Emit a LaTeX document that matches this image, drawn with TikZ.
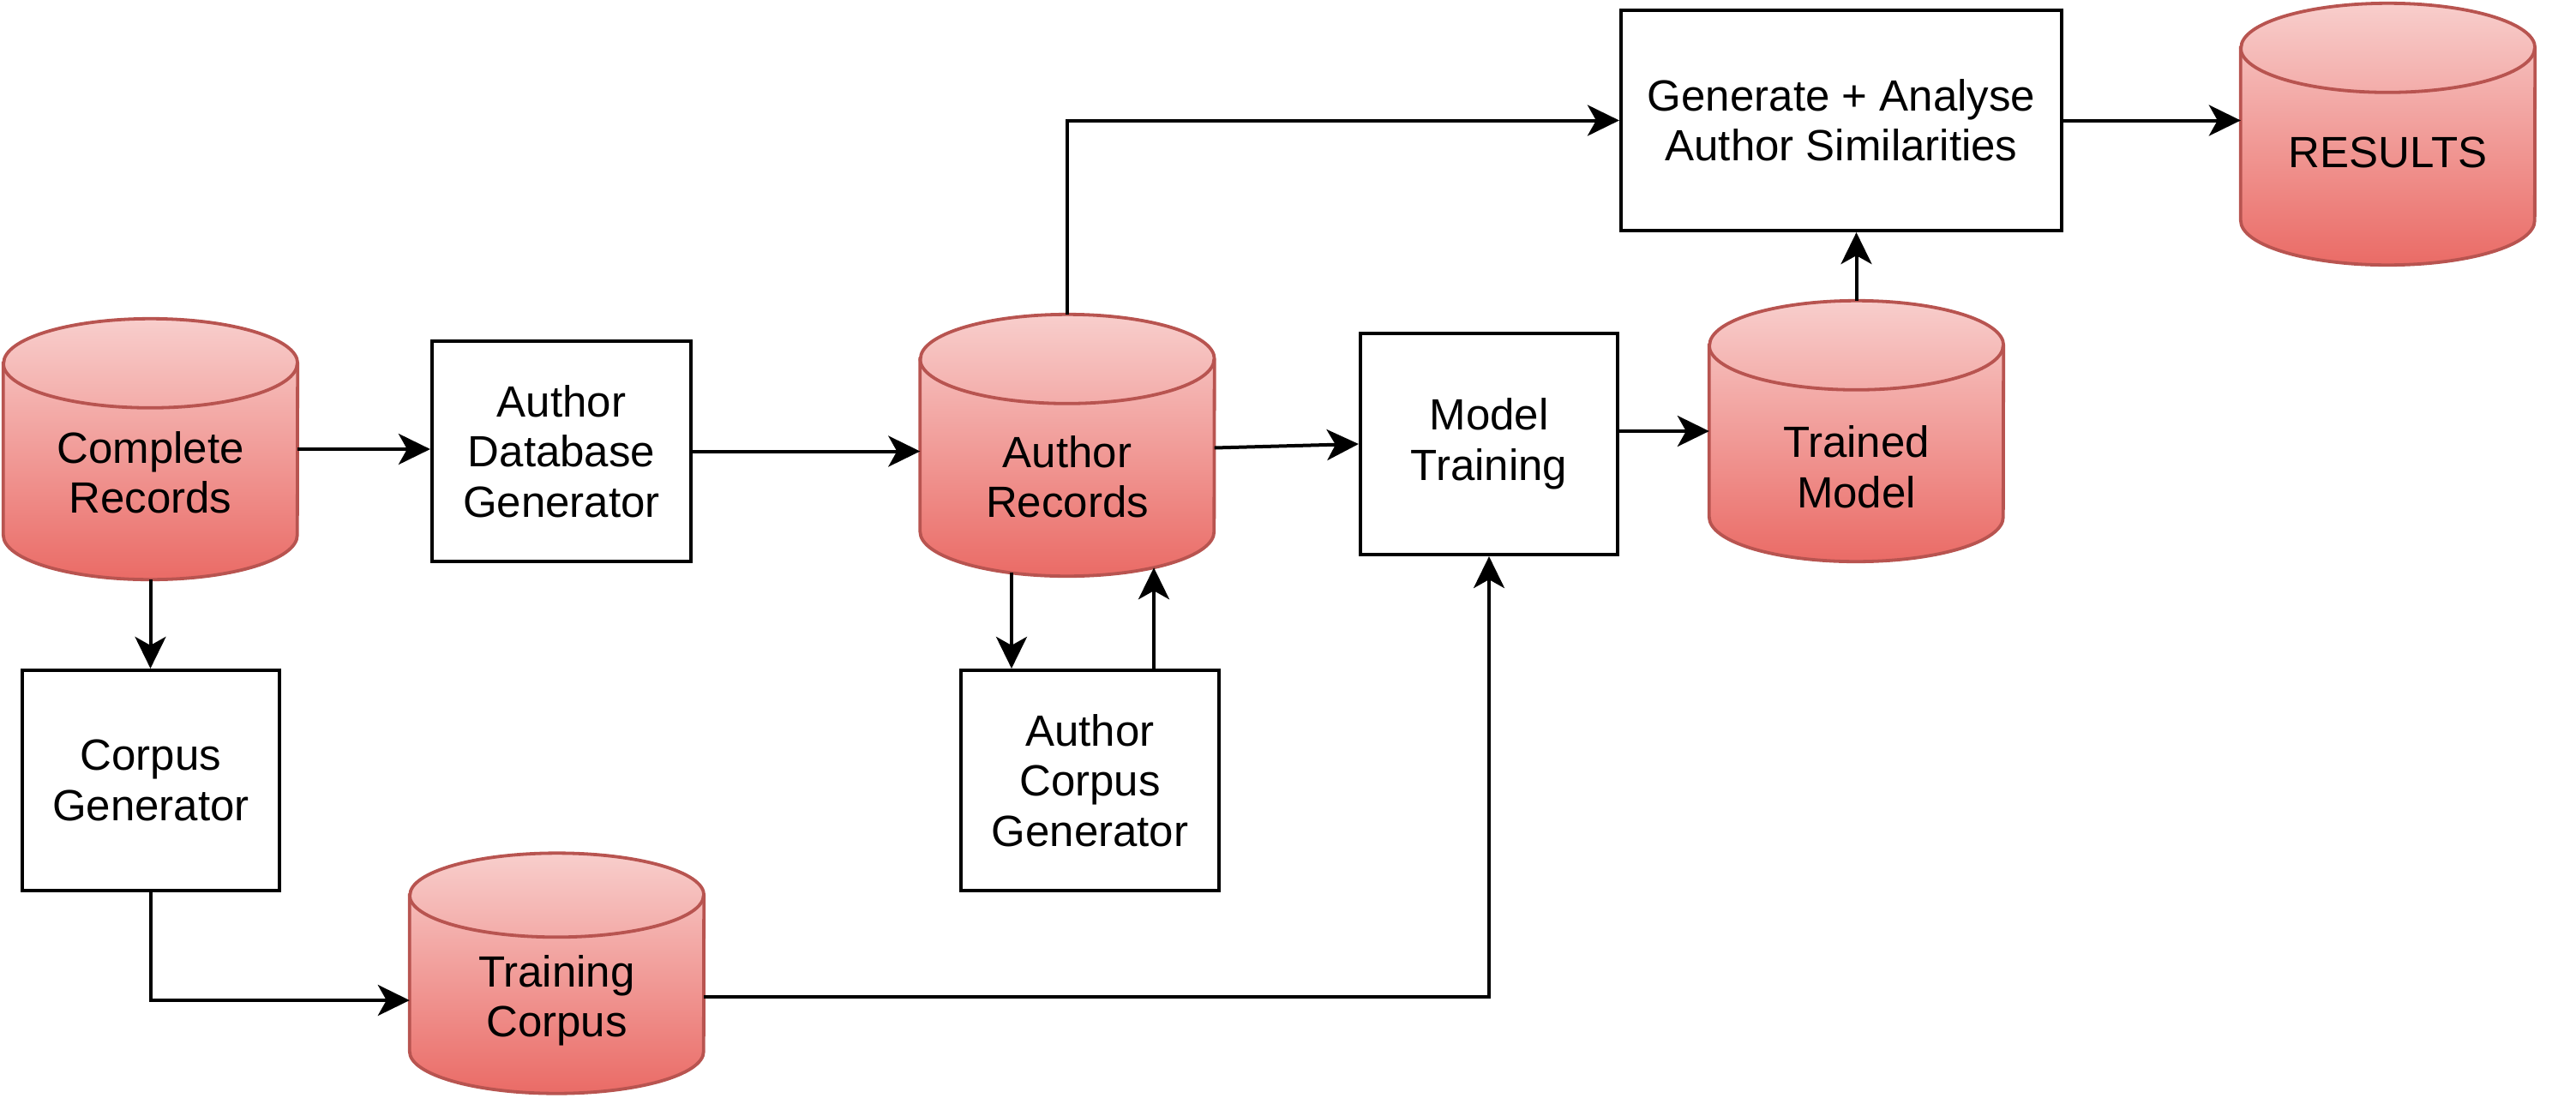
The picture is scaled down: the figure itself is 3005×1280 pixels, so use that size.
\documentclass[tikz,border=0pt]{standalone}
\usepackage{fontspec}
\setmainfont{Liberation Sans}
\usetikzlibrary{arrows.meta,calc}
\pgfdeclarelayer{background}
\pgfsetlayers{background,main}
\definecolor{cyltop}{HTML}{F8CECC}
\definecolor{cylbot}{HTML}{EA6B66}
\definecolor{cylline}{HTML}{B85450}
\begin{document}
\begin{tikzpicture}[x=1pt,y=-1pt,
  font=\fontsize{51}{58.5}\selectfont,
  box/.style={draw=black, line width=4.2pt, fill=white, inner sep=0pt, align=center, minimum height=257pt},
  cyl/.style={inner sep=0pt, minimum width=343pt},
  lbl/.style={align=center, inner sep=0pt},
  arr/.style={line width=4pt, -{Stealth[length=37pt,width=36pt,inset=10pt]}}]
\useasboundingbox (0,0) rectangle (3005,1280);

% process boxes
\node[box, minimum width=302pt] (adb) at (655,526.5) {Author\\Database\\Generator};
\node[box, minimum width=300pt] (cg) at (176,910.5) {Corpus\\Generator};
\node[box, minimum width=301pt] (acg) at (1271.5,910.5) {Author\\Corpus\\Generator};
\node[box, minimum width=300pt, minimum height=258pt] (mt) at (1737,518) {Model\\Training};
\node[box, minimum width=514pt] (gen) at (2148,140.5) {Generate + Analyse\\Author Similarities};

% cylinder frames
\node[cyl, minimum height=304pt] (cr) at (175.5,524) {};
\node[cyl, minimum height=305pt] (ar) at (1245,519.5) {};
\node[cyl, minimum height=304pt] (tm) at (2165.5,503) {};
\node[cyl, minimum height=305pt] (res) at (2785.5,156.5) {};
\node[cyl, minimum height=280pt] (tc) at (649.5,1135.5) {};

% cylinder labels
\node[lbl] (crl) at ($(cr.center)+(0,27.5)$) {Complete\\Records};
\node[lbl] (arl) at ($(ar.center)+(0,37)$) {Author\\Records};
\node[lbl] (tml) at ($(tm.center)+(0,42)$) {Trained\\Model};
\node[lbl] (tcl) at ($(tc.center)+(0,32)$) {Training\\Corpus};
\node[lbl] (resl) at ($(res.center)+(0,21)$) {RESULTS};

\begin{pgfonlayer}{background}
\foreach \n/\ry in {cr/52,ar/52,tm/52,res/52,tc/49}{
  \path[top color=cyltop, bottom color=cylbot, draw=cylline, line width=3.8pt]
    ([yshift=-\ry pt]\n.north west) -- ([yshift=\ry pt]\n.south west)
    arc[start angle=180, end angle=360, x radius=171.5pt, y radius=\ry pt]
    -- ([yshift=-\ry pt]\n.north east)
    arc[start angle=0, end angle=180, x radius=171.5pt, y radius=\ry pt] -- cycle;
  \draw[cylline, line width=3.8pt] ([yshift=-\ry pt]\n.north west)
    arc[start angle=180, end angle=360, x radius=171.5pt, y radius=\ry pt];
}
\end{pgfonlayer}

% connectors
\draw[arr] (cr.east) -- (cr.east -| adb.west);
\draw[arr] (adb.east) -- (adb.east -| ar.west);
\draw[arr] ($(ar.east)+(0,3)$) -- (mt.west);
\draw[arr] (mt.east |- tm.west) -- (tm.west);
\draw[arr] (tm.north) -- (tm.north |- gen.south);
\draw[arr] (gen.east) -- (gen.east -| res.west);
\draw[arr] (ar.north) |- (gen.west);
\draw[arr] (cr.south) -- (cr.south |- cg.north);
\coordinate (tcin) at ($(tc.west)+(0,31.5)$);
\draw[arr] (cg.south) |- (tcin);
\coordinate (tcout) at ($(tc.east)+(0,27.5)$);
\draw[arr] (tcout) -| (mt.south);
\coordinate (arb1) at ($(ar.south)+(-65,-4)$);
\coordinate (acgt1) at ($(acg.north)+(-91.5,0)$);
\draw[arr] (arb1) -- (acgt1);
\coordinate (acgt2) at ($(acg.north)+(74.5,0)$);
\coordinate (arb2) at ($(ar.south)+(101,-10)$);
\draw[arr] (acgt2) -- (arb2);
\end{tikzpicture}
\end{document}
